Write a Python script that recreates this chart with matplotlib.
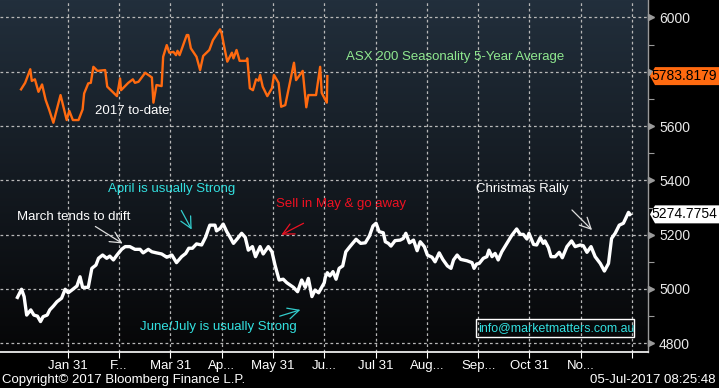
import numpy as np
import matplotlib
matplotlib.use("Agg")
import matplotlib.pyplot as plt
from matplotlib.patches import Polygon, Rectangle

# ---------------- data ----------------
# x = position in months from Jan 1 (1 = Jan 31, 2 = Feb end, ...)
orange_x = [0.09, 0.17, 0.27, 0.30, 0.36, 0.43, 0.50, 0.57, 0.64, 0.72, 0.86, 0.98, 1.03, 1.10,
            1.21, 1.29, 1.32, 1.40, 1.45, 1.50, 1.58, 1.73, 1.77, 1.96, 2.02, 2.04, 2.18, 2.27,
            2.31, 2.38, 2.51, 2.64, 2.67, 2.73, 2.83, 2.86, 2.93, 2.98, 3.06, 3.11, 3.14, 3.18,
            3.32, 3.35, 3.40, 3.51, 3.58, 3.64, 3.76, 3.83, 3.97, 4.00, 4.05, 4.11, 4.20, 4.23,
            4.29, 4.35, 4.48, 4.50, 4.55, 4.61, 4.67, 4.72, 4.75, 4.80, 4.89, 4.98, 5.02, 5.11,
            5.16, 5.24, 5.41, 5.45, 5.58, 5.65, 5.69, 5.84, 5.92, 5.95, 6.05, 6.06]
orange_v = [5735, 5759, 5809, 5766, 5772, 5726, 5753, 5696, 5659, 5612, 5714, 5622, 5656, 5622,
            5622, 5661, 5720, 5757, 5759, 5818, 5803, 5806, 5745, 5710, 5775, 5732, 5759, 5772,
            5759, 5763, 5796, 5779, 5686, 5751, 5747, 5855, 5898, 5870, 5873, 5861, 5877, 5861,
            5935, 5935, 5886, 5855, 5806, 5858, 5880, 5916, 5956, 5941, 5892, 5837, 5870, 5849,
            5880, 5840, 5840, 5849, 5739, 5732, 5772, 5767, 5788, 5745, 5710, 5739, 5788, 5759,
            5671, 5677, 5833, 5769, 5803, 5669, 5714, 5714, 5818, 5722, 5686, 5783.8179]

white_x = [0.02, 0.10, 0.15, 0.20, 0.28, 0.34, 0.41, 0.47, 0.52, 0.60, 0.65, 0.72, 0.79, 0.88,
           0.95, 1.01, 1.08, 1.18, 1.24, 1.29, 1.40, 1.47, 1.55, 1.60, 1.68, 1.76, 1.82, 1.89,
           1.96, 2.05, 2.12, 2.21, 2.31, 2.41, 2.47, 2.57, 2.64, 2.73, 2.83, 2.93, 2.96, 3.03,
           3.12, 3.22, 3.30, 3.36, 3.43, 3.51, 3.61, 3.69, 3.74, 3.77, 3.87, 3.90, 3.97, 4.03,
           4.10, 4.16, 4.23, 4.31, 4.39, 4.46, 4.52, 4.60, 4.66, 4.75, 4.81, 4.91, 4.98, 5.04,
           5.12, 5.20, 5.27, 5.40, 5.48, 5.56, 5.63, 5.69, 5.76, 5.82, 5.89, 5.95, 6.00, 6.02,
           6.06, 6.11, 6.17, 6.23, 6.29, 6.36, 6.42, 6.50, 6.62, 6.71, 6.80, 6.88, 6.95, 7.01,
           7.07, 7.15, 7.19, 7.25, 7.30, 7.38, 7.48, 7.54, 7.59, 7.66, 7.74, 7.81, 7.87, 7.95,
           8.01, 8.10, 8.16, 8.24, 8.31, 8.40, 8.47, 8.52, 8.59, 8.66, 8.78, 8.88, 8.92, 8.97,
           9.02, 9.10, 9.17, 9.21, 9.27, 9.33, 9.39, 9.46, 9.56, 9.65, 9.75, 9.82, 9.88, 9.95,
           9.99, 10.08, 10.14, 10.21, 10.27, 10.30, 10.37, 10.42, 10.50, 10.58, 10.64, 10.73,
           10.82, 10.89, 10.99, 11.05, 11.12, 11.20, 11.28, 11.38, 11.46, 11.54, 11.60, 11.67,
           11.75, 11.83, 11.86, 11.93, 11.96]
white_v = [4969, 4999, 4972, 4904, 4923, 4904, 4900, 4880, 4898, 4904, 4923, 4937, 4953, 4966,
           4999, 4986, 4996, 5011, 5045, 5006, 5006, 5076, 5088, 5113, 5125, 5113, 5121, 5107,
           5125, 5146, 5156, 5156, 5146, 5146, 5133, 5146, 5137, 5133, 5129, 5117, 5119, 5125,
           5097, 5119, 5131, 5150, 5150, 5166, 5162, 5192, 5220, 5235, 5235, 5214, 5223, 5239,
           5211, 5192, 5168, 5186, 5205, 5190, 5143, 5156, 5119, 5156, 5129, 5156, 5137, 5088,
           5033, 5036, 5023, 5006, 4990, 5033, 5006, 5039, 4972, 4996, 4986, 5006, 5023, 5043,
           5060, 5048, 5064, 5036, 5076, 5085, 5137, 5156, 5183, 5168, 5170, 5195, 5232, 5242,
           5211, 5207, 5174, 5168, 5158, 5178, 5180, 5186, 5205, 5170, 5180, 5141, 5174, 5156,
           5125, 5117, 5100, 5133, 5109, 5085, 5076, 5107, 5125, 5109, 5104, 5097, 5076, 5092,
           5094, 5113, 5119, 5143, 5119, 5131, 5107, 5137, 5168, 5196, 5221, 5201, 5201, 5184,
           5205, 5164, 5162, 5189, 5168, 5177, 5152, 5119, 5119, 5135, 5115, 5156,
           5177, 5156, 5162, 5159, 5135, 5156, 5119, 5094, 5066, 5094, 5186, 5205,
           5235, 5242, 5254, 5282, 5274.7754]

xtick_pos = [1, 2, 3, 4, 5, 6, 7, 8, 9, 10, 11, 12]
xtick_labels = ["Jan 31", "F...", "Mar 31", "Ap...", "May 31", "Ju...", "Jul 31",
                "Aug...", "Sep...", "Oct 31", "No...", ""]
ytick_major = [4800, 5000, 5200, 5400, 5600, 5800, 6000]
ytick_labels = ["4800", "5000", "5200", "5400", "5600", "", "6000"]
ytick_minor = [4900, 5100, 5300, 5500, 5700, 5900]

orange_last = orange_v[-1]
white_last = white_v[-1]

# ---------------- figure ----------------
W, H = 719, 388
plt.rcParams['font.family'] = ['Liberation Sans', 'DejaVu Sans']
fig = plt.figure(figsize=(W / 100, H / 100), dpi=100)
fig.patch.set_facecolor('black')

ax_left, ax_right, ax_top, ax_bot = 0, 648, 0, 352
ax = fig.add_axes([ax_left / W, 1 - ax_bot / H, (ax_right - ax_left) / W, (ax_bot - ax_top) / H])
ax.set_xlim(-0.32, 12.31)
ax.set_ylim(4768, 6064)
ax.set_facecolor('black')

# gradient background
grad = np.linspace(0, 1, 256).reshape(-1, 1)
top_c = np.array([0x22, 0x2f, 0x3c]) / 255
bot_c = np.array([0x06, 0x06, 0x07]) / 255
img = top_c[None, None, :] * (1 - grad[:, :, None]) + bot_c[None, None, :] * grad[:, :, None]
ax.imshow(img, extent=[0, 1, 0, 1], transform=ax.transAxes, aspect='auto', zorder=0,
          origin='upper')

grid_kw = dict(color='#b8b8b8', linewidth=0.9, linestyle=(0, (2.2, 2.2)), zorder=1)
for yv in ytick_major:
    ax.axhline(yv, **grid_kw)
for xv in xtick_pos:
    ax.axvline(xv, **grid_kw)

ax.plot(orange_x, orange_v, color='#ff6a10', linewidth=1.7, zorder=3, solid_joinstyle='round')
ax.plot(white_x, white_v, color='white', linewidth=2.4, zorder=3, solid_joinstyle='round')

# spines / ticks
for s in ['top', 'left']:
    ax.spines[s].set_visible(False)
ax.spines['bottom'].set_color('white')
ax.spines['bottom'].set_linewidth(1.2)
ax.spines['right'].set_color('#9a9a9a')
ax.spines['right'].set_linewidth(1.0)

ax.set_xticks(xtick_pos)
ax.set_xticklabels(xtick_labels)
ax.tick_params(axis='x', colors='white', labelcolor='white', labelsize=9.5, length=4,
               width=0.8, pad=2, direction='out')
ax.yaxis.tick_right()
ax.set_yticks(ytick_major)
ax.set_yticklabels(ytick_labels)
ax.set_yticks(ytick_minor, minor=True)
ax.tick_params(axis='y', which='major', colors='#9a9a9a', labelcolor='#e8e8e8',
               labelsize=10, length=0, pad=8)
ax.tick_params(axis='y', which='minor', colors='#9a9a9a', length=4, width=0.8,
               direction='out')

# triangle markers at major ticks
for yv in ytick_major:
    ax.plot([1.004], [yv], marker='>', markersize=5, color='#9a9a9a',
            transform=ax.get_yaxis_transform(), clip_on=False, zorder=5)

def fy(y):
    return H - y

# last-value tags
def tag(y_val, face, text):
    ypix = ax.transData.transform((0, y_val))[1]
    x0 = 650
    h = 9
    poly = Polygon([[x0, ypix], [x0 + 5, ypix + h], [W, ypix + h], [W, ypix - h],
                    [x0 + 5, ypix - h]], closed=True, facecolor=face, edgecolor='none',
                   transform=None, zorder=10)
    fig.patches.append(poly)
    fig.text((W - 2) / W, ypix / H, text, color='black', fontsize=10, va='center',
             ha='right', zorder=11)

tag(orange_last, '#ff6a10', f"{orange_last:.4f}")
tag(white_last, 'white', f"{white_last:.4f}")

# annotations
def ftext(x, y, s, color, size=9.5, **kw):
    fig.text(x / W, fy(y) / H, s, color=color, fontsize=size, va='center', ha='left', **kw)

ftext(346, 57, "ASX 200 Seasonality 5-Year Average", '#8fe88f')
ftext(95, 111, "2017 to-date", 'white')
ftext(108, 189, "April is usually Strong", '#33e0e0')
ftext(17, 217, "March tends to drift", 'white')
ftext(276, 204, "Sell in May & go away", '#ee1122')
ftext(476, 189, "Christmas Rally", 'white')
ftext(140, 327, "June/July is usually Strong", '#33e0e0')
ftext(478, 328, "info@marketmatters.com.au", '#33e0e0', size=8.9)
fig.patches.append(Rectangle((476, fy(337)), 158, 18, fill=False, edgecolor='white',
                             linewidth=1.0, transform=None, zorder=10))

def arrow(x1, y1, x2, y2, color):
    fig.add_artist(matplotlib.patches.FancyArrowPatch(
        (x1, fy(y1)), (x2, fy(y2)), arrowstyle='->,head_length=8,head_width=4',
        color=color, linewidth=0.9, transform=None, mutation_scale=1, zorder=12))

arrow(93, 225, 125, 245, '#dddddd')
arrow(180, 208, 193, 232, '#33cccc')
arrow(306, 222, 279, 236, '#ee1122')
arrow(277, 317, 303, 309, '#33cccc')
arrow(570, 208, 594, 232, '#dddddd')

fig.text(2 / W, fy(380) / H, "Copyright\u00a9 2017 Bloomberg Finance L.P.", color='white',
         fontsize=9.5, va='center', ha='left')
fig.text(716 / W, fy(380) / H, "05-Jul-2017 08:25:48", color='white', fontsize=9.5,
         va='center', ha='right')

fig.savefig('out.png', dpi=100, facecolor='black')
